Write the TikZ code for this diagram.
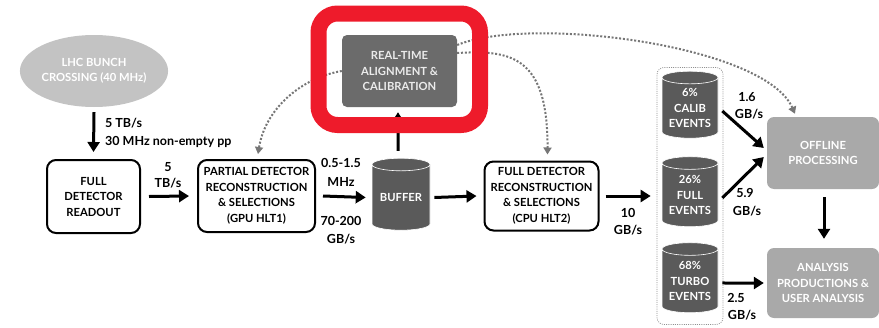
\documentclass[tikz,border=0pt]{standalone}
\usepackage{fontspec}
\setmainfont{Lato}
\usetikzlibrary{shapes.geometric,arrows.meta,calc}
\definecolor{redhl}{HTML}{EE1B2B}
\definecolor{cyl}{HTML}{5A5A5A}
\definecolor{rtagray}{HTML}{6B6B6B}
\definecolor{lightbox}{HTML}{A9A9A9}
\definecolor{ellgray}{HTML}{C3C3C3}
\definecolor{dotgray}{HTML}{767676}
\tikzset{
  every node/.style={font=\bfseries\fontsize{11.2}{15.5}\selectfont, align=center, inner sep=0pt},
  wbox/.style={draw=black, line width=2pt, rounded corners=9pt, fill=white},
  gbox/.style={fill=lightbox, rounded corners=7pt, text=white},
  dbcyl/.style={cylinder, shape border rotate=90, aspect=0.3, draw=white, line width=0.6pt,
    fill=cyl, text=white, minimum width=56pt},
  arr/.style={line width=3pt, -{Triangle[length=10pt,width=12pt]}},
  dotarr/.style={draw=dotgray, line width=2pt, dash pattern=on 2pt off 1.8pt,
    -{Triangle[length=7pt,width=8pt,fill=dotgray]}},
  lbl/.style={font=\bfseries\fontsize{12.5}{17}\selectfont, text=black},
}
\begin{document}
\begin{tikzpicture}[x=1pt,y=-1pt]
\useasboundingbox (0,0) rectangle (879,327);
% nodes
\node[ellipse, fill=ellgray, text=white, minimum width=132pt, minimum height=72pt] (lhc) at (94,71) {LHC BUNCH\\CROSSING (40 MHz)};
\node[wbox, minimum width=93pt, minimum height=73pt] (fdr) at (93.5,196.5) {FULL\\DETECTOR\\READOUT};
\node[wbox, minimum width=117pt, minimum height=72pt] (pdr) at (256.5,196) {PARTIAL DETECTOR\\RECONSTRUCTION\\\& SELECTIONS\\(GPU HLT1)};
\node[dbcyl, minimum width=58pt, minimum height=72pt] (buf) at (401,197.5) {BUFFER};
\node[fill=rtagray, rounded corners=5pt, text=white!92!black, minimum width=115pt, minimum height=72pt] (rta) at (399.5,71) {REAL-TIME\\ALIGNMENT \&\\CALIBRATION};
\node[wbox, minimum width=114pt, minimum height=69pt] (fdr2) at (541.5,196) {FULL DETECTOR\\RECONSTRUCTION\\\& SELECTIONS\\(CPU HLT2)};
\node[draw=dotgray!80, line width=0.7pt, dash pattern=on 1pt off 1.2pt, rounded corners=7pt, minimum width=66pt, minimum height=257pt] (grp) at (690,196) {};
\node[dbcyl, minimum height=67pt] (calib) at (690,108) {6\%\\CALIB\\EVENTS};
\node[dbcyl, minimum height=70pt] (full) at (690,195) {26\%\\FULL\\EVENTS};
\node[dbcyl, minimum height=70pt] (turbo) at (690,281) {68\%\\TURBO\\EVENTS};
\node[gbox, minimum width=112pt, minimum height=72pt] (off) at (823,153) {OFFLINE\\PROCESSING};
\node[gbox, minimum width=112pt, minimum height=70pt] (ana) at (823,283) {ANALYSIS\\PRODUCTIONS \&\\USER ANALYSIS};
% dotted feedback curves
\draw[dotarr] (rta.west) .. controls (300,78) and (265,110) .. ($(pdr.north)+(1.5,-5)$);
\draw[dotarr] ($(rta.east)+(0,-18)$) .. controls (510,50) and (548,55) .. ($(fdr2.north)+(6,-6)$);
\draw[dotarr] ($(rta.east)+(0,-26)$) .. controls (530,15) and (765,45) .. ($(off.north)+(-28,-3)$);
% solid arrows
\draw[arr] (lhc.south) ++(0,5) -- ($(fdr.north)+(0,-7)$);
\draw[arr] ($(fdr.east)+(8,0)$) -- ($(pdr.west)+(-8,0)$);
\draw[arr] ($(pdr.east)+(7,0)$) -- ($(buf.west)+(-6,0)$);
\draw[arr] ($(buf.north)+(-3,-7)$) -- ($(rta.south)+(-1.5,5)$);
\draw[arr] ($(buf.east)+(4,0)$) -- ($(fdr2.west)+(-7,0)$);
\draw[arr] ($(fdr2.east)+(6,0)$) -- ($(grp.west)+(-6,0)$);
\draw[arr] ($(calib.east)+(4,3)$) -- ($(off.west)+(-3,-5)$);
\draw[arr] ($(full.east)+(4,3)$) -- ($(off.west)+(-3,4)$);
\draw[arr] ($(turbo.east)+(4,2)$) -- ($(ana.west)+(-3,0)$);
\draw[arr] ($(off.south)+(1,8)$) -- ($(ana.south |- ana.north)+(1,-9)$);
% highlight
\draw[redhl, line width=16pt, rounded corners=19pt] (318.5,13.5) rectangle (480,125);
% labels
\node[lbl, anchor=west] (l1) at (105,123) {5 TB/s};
\node[lbl, anchor=west] (l2) at (105,142) {30 MHz non-empty pp};
\node[lbl] (l3) at (168,167) {5};
\node[lbl] (l4) at (168,183) {TB/s};
\node[lbl] (l5) at (341,163) {0.5-1.5};
\node[lbl] (l6) at (341,182) {MHz};
\node[lbl] (l7) at (341,221) {70-200};
\node[lbl] (l8) at (341,239) {GB/s};
\node[lbl] (l9) at (628,213) {10};
\node[lbl] (l10) at (628,230) {GB/s};
\node[lbl] (l11) at (747,97) {1.6};
\node[lbl] (l12) at (749,114) {GB/s};
\node[lbl] (l13) at (745,193) {5.9};
\node[lbl] (l14) at (747,211) {GB/s};
\node[lbl] (l15) at (736,298) {2.5};
\node[lbl] (l16) at (742,315) {GB/s};
\end{tikzpicture}
\end{document}
